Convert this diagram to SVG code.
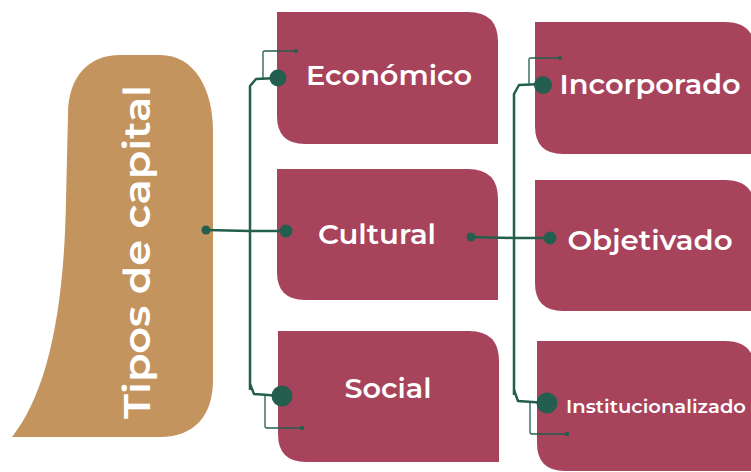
<svg xmlns="http://www.w3.org/2000/svg" width="751" height="472" viewBox="0 0 751 472">
<style>
.box{fill:#A8435C}
.lbl{fill:#ffffff;font-family:"Montserrat","Open Sans","Liberation Sans",sans-serif;font-weight:600}
.ln{fill:none;stroke:#245E4E;stroke-width:2.5;stroke-linejoin:round}
.thin{fill:none;stroke:#245E4E;stroke-width:1.3}
.dot{fill:#245E4E}
</style>
<rect width="751" height="472" fill="#ffffff"/>
<g id="root">
<path d="M12,437 C45,395 64,320 66,200 L68,115 C68,75 90,55 120,55 L160,55 C195,55 213,90 213,130 L213,380 C213,415 195,437 160,437 Z" fill="#C4945F"/>
<text class="lbl" transform="translate(150,252) rotate(-90)" text-anchor="middle" font-size="37" textLength="334" lengthAdjust="spacingAndGlyphs">Tipos de capital</text>
</g>
<g id="economico">
<path class="box" d="M277,12 L468,12 Q498,12 498,42 L498,144 L305,144 Q277,144 277,116 Z"/>
<text class="lbl" x="389" y="85" text-anchor="middle" font-size="27" textLength="166" lengthAdjust="spacingAndGlyphs">Económico</text>
</g>
<g id="cultural">
<path class="box" d="M277,169 L468,169 Q498,169 498,199 L498,300 L305,300 Q277,300 277,272 Z"/>
<text class="lbl" x="377" y="244" text-anchor="middle" font-size="27" textLength="118" lengthAdjust="spacingAndGlyphs">Cultural</text>
</g>
<g id="social">
<path class="box" d="M278,331 L469,331 Q499,331 499,361 L499,462 L306,462 Q278,462 278,434 Z"/>
<text class="lbl" x="388" y="398" text-anchor="middle" font-size="27" textLength="87" lengthAdjust="spacingAndGlyphs">Social</text>
</g>
<g id="incorporado">
<path class="box" d="M535,22 L725,22 Q755,22 755,52 L755,154 L563,154 Q535,154 535,126 Z"/>
<text class="lbl" x="650" y="94" text-anchor="middle" font-size="27" textLength="181" lengthAdjust="spacingAndGlyphs">Incorporado</text>
</g>
<g id="objetivado">
<path class="box" d="M535,180 L725,180 Q755,180 755,210 L755,311 L563,311 Q535,311 535,283 Z"/>
<text class="lbl" x="650" y="250" text-anchor="middle" font-size="27" textLength="165" lengthAdjust="spacingAndGlyphs">Objetivado</text>
</g>
<g id="institucionalizado">
<path class="box" d="M537,341 L725,341 Q755,341 755,371 L755,471 L565,471 Q537,471 537,443 Z"/>
<text class="lbl" x="656" y="413" text-anchor="middle" font-size="18" textLength="180" lengthAdjust="spacingAndGlyphs">Institucionalizado</text>
</g>
<g id="connectors">
<path class="ln" d="M250,390 L250,86 L256,79 L278,78"/>
<path class="ln" d="M250,384 L254,394 L282,396"/>
<path class="ln" d="M206,230 L250,231 L286,231"/>
<path class="thin" d="M263,78 L263,52 Q263,51 265,51 L296,51"/>
<path class="thin" d="M265,396 L265,426 Q265,428 267,428 L302,428"/>
<circle class="dot" cx="278" cy="78" r="8.5"/>
<circle class="dot" cx="286" cy="231" r="6.5"/>
<circle class="dot" cx="282" cy="396" r="10.5"/>
<circle class="dot" cx="206" cy="230" r="4.5"/>
<circle class="dot" cx="296" cy="51" r="2"/>
<circle class="dot" cx="302" cy="428" r="2.2"/>
<path class="ln" d="M514,395 L514,94 L519,85 L543,84"/>
<path class="ln" d="M514,390 L518,401 L547,403"/>
<path class="ln" d="M471,237 L514,238 L550,238"/>
<path class="thin" d="M529,84 L529,59 Q529,58 531,58 L560,58"/>
<path class="thin" d="M530,403 L530,432 Q530,434 532,434 L567,434"/>
<circle class="dot" cx="543" cy="85" r="9"/>
<circle class="dot" cx="550" cy="238" r="6.5"/>
<circle class="dot" cx="547" cy="403" r="10.5"/>
<circle class="dot" cx="471" cy="237" r="4.5"/>
<circle class="dot" cx="560" cy="58" r="2"/>
<circle class="dot" cx="567" cy="434" r="2.2"/>
</g>
</svg>
